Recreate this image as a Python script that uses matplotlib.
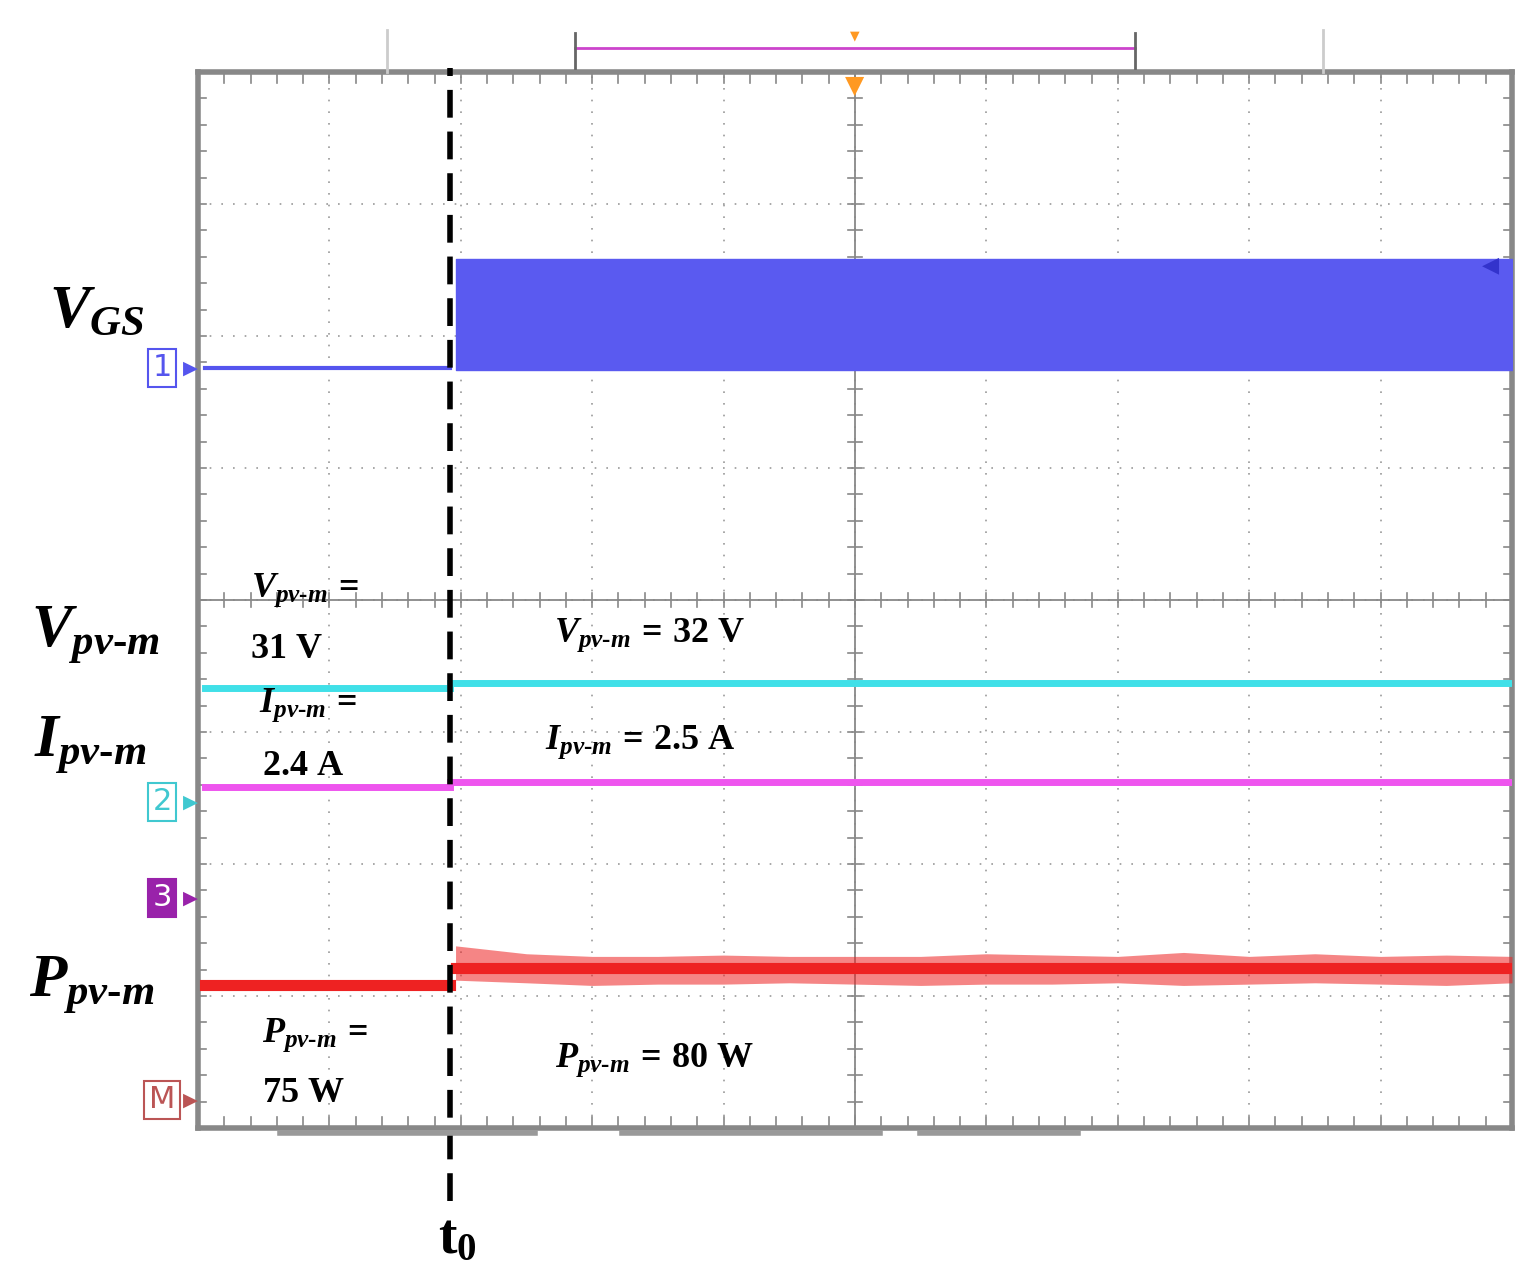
import matplotlib
matplotlib.use("Agg")
import matplotlib.pyplot as plt
import numpy as np

# data (divisions: x 0..10, y 0..8)
t0 = 1.92
vgs_low = 5.76
vgs_high = 6.58
vpv_levels = [3.33, 3.37]
ipv_levels = [2.58, 2.62]
ppv_levels = [1.08, 1.21]
ppv_after_x = [1.96, 2.5, 3.0, 3.5, 4.0, 4.5, 5.0, 5.5, 6.0, 6.5, 7.0, 7.5, 8.0, 8.5, 9.0, 9.5, 10.0]
ppv_after_hi = [1.38, 1.32, 1.30, 1.30, 1.31, 1.30, 1.30, 1.30, 1.32, 1.31, 1.30, 1.33, 1.30, 1.32, 1.30, 1.31, 1.30]
ppv_after_lo = [1.12, 1.10, 1.08, 1.09, 1.09, 1.10, 1.09, 1.08, 1.09, 1.09, 1.10, 1.08, 1.09, 1.10, 1.09, 1.08, 1.10]

plt.rcParams['mathtext.fontset'] = 'custom'
plt.rcParams['mathtext.it'] = 'Liberation Serif:italic:bold'
plt.rcParams['mathtext.rm'] = 'Liberation Serif:bold'
plt.rcParams['mathtext.bf'] = 'Liberation Serif:bold'

W, H = 1540, 1284
fig = plt.figure(figsize=(W/100, H/100), dpi=100)
def fx(px): return px / W
def fy(py): return 1 - py / H

ax = fig.add_axes([fx(198), fy(1128), (1512-198)/W, (1128-72)/H])
ax.set_xlim(0, 10); ax.set_ylim(0, 8)
ax.set_xticks([]); ax.set_yticks([])
for s in ax.spines.values():
    s.set_color('#888888'); s.set_linewidth(4)

# grid
for i in range(1, 10):
    ax.plot([i, i], [0, 8], color='#999999', lw=1.2, ls=(0, (1, 6)), zorder=1)
for j in range(1, 8):
    ax.plot([0, 10], [j, j], color='#999999', lw=1.2, ls=(0, (1, 6)), zorder=1)
ax.axvline(5, color='#888888', lw=1.3, zorder=1)
ax.axhline(4, color='#888888', lw=1.3, zorder=1)
for k in np.arange(0, 10.01, 0.2):
    ax.plot([k, k], [3.95, 4.05], color='#888888', lw=1.2)
    ax.plot([k, k], [0, 0.08], color='#888888', lw=1.2)
    ax.plot([k, k], [7.92, 8], color='#888888', lw=1.2)
for k in np.arange(0, 8.01, 0.2):
    ax.plot([4.95, 5.05], [k, k], color='#888888', lw=1.2)
    ax.plot([0, 0.06], [k, k], color='#888888', lw=1.2)
    ax.plot([9.94, 10], [k, k], color='#888888', lw=1.2)

# VGS
ax.plot([0.05, t0], [vgs_low, vgs_low], color='#5555ee', lw=3, zorder=3)
ax.fill_between([t0 + 0.04, 10], [vgs_low - 0.02]*2, [vgs_high]*2, color='#5a5af0', zorder=3)
# Vpv, Ipv
ax.plot([0.05, t0], [vpv_levels[0]]*2, color='#40e0e8', lw=5, zorder=3)
ax.plot([t0, 10], [vpv_levels[1]]*2, color='#40e0e8', lw=5, zorder=3)
ax.plot([0.05, t0], [ipv_levels[0]]*2, color='#ee55ee', lw=5, zorder=3)
ax.plot([t0, 10], [ipv_levels[1]]*2, color='#ee55ee', lw=5, zorder=3)
# Ppv
ax.plot([0.05, t0], [ppv_levels[0]]*2, color='#ee2222', lw=8, zorder=3)
ax.fill_between(ppv_after_x, ppv_after_lo, ppv_after_hi, color='#ee2222', alpha=0.55, zorder=3, lw=0)
ax.plot([t0 + 0.04, 10], [ppv_levels[1]]*2, color='#ee2222', lw=8, zorder=3)

# t0 dashed line
ax.plot([t0, t0], [-0.55, 8.03], color='black', lw=4, ls=(0, (5, 2.5)), clip_on=False, zorder=5)

# bottom grey bars
for a, b in [(280, 535), (622, 880), (920, 1078)]:
    fig.add_artist(plt.Line2D([fx(a), fx(b)], [fy(1133)]*2, color='#999999', lw=4))
# top bracket
fig.add_artist(plt.Line2D([fx(575), fx(1135)], [fy(48)]*2, color='#cc44cc', lw=2))
for xx in (575, 1135):
    fig.add_artist(plt.Line2D([fx(xx)]*2, [fy(33), fy(68)], color='#666666', lw=2))
for xx in (387, 1323):
    fig.add_artist(plt.Line2D([fx(xx)]*2, [fy(30), fy(72)], color='#cccccc', lw=2))
fig.text(fx(855), fy(36), '▼', color='#ff9922', fontsize=9, ha='center', va='center')
fig.text(fx(855), fy(86), '▼', color='#ff9922', fontsize=18, ha='center', va='center')
fig.text(fx(1490), fy(265), '◀', color='#3333cc', fontsize=16, ha='center', va='center')

# channel markers
def marker(py, txt, ec, fc, tc):
    fig.text(fx(162), fy(py), txt, fontsize=22, ha='center', va='center', color=tc,
             family='DejaVu Sans',
             bbox=dict(boxstyle='square,pad=0.15', fc=fc, ec=ec, lw=1.5))
    fig.text(fx(190), fy(py), '▶', fontsize=14, ha='center', va='center', color=ec)
marker(368, '1', '#5555ee', 'white', '#5555ee')
marker(802, '2', '#40c8d0', 'white', '#40c8d0')
marker(898, '3', '#9922aa', '#9922aa', 'white')
marker(1100, 'M', '#bb5555', 'white', '#bb5555')

# labels
big = 44
fig.text(fx(97), fy(310), r'$V_{GS}$', fontsize=big, ha='center', va='center')
fig.text(fx(95), fy(635), r'$V_{pv\text{-}m}$', fontsize=big, ha='center', va='center')
fig.text(fx(90), fy(745), r'$I_{pv\text{-}m}$', fontsize=big, ha='center', va='center')
fig.text(fx(92), fy(985), r'$P_{pv\text{-}m}$', fontsize=big, ha='center', va='center')

sm = 26
def lab(px, py, s):
    fig.text(fx(px), fy(py), s, fontsize=sm, ha='center', va='center')
lab(305, 590, r'$V_{pv\text{-}m}\mathrm{\,=}$')
lab(287, 648, r'$\mathrm{31\ V}$')
lab(308, 705, r'$I_{pv\text{-}m}\mathrm{\,=}$')
lab(303, 765, r'$\mathrm{2.4\ A}$')
lab(650, 635, r'$V_{pv\text{-}m}\mathrm{\,=\,32\ V}$')
lab(640, 742, r'$I_{pv\text{-}m}\mathrm{\,=\,2.5\ A}$')
lab(315, 1035, r'$P_{pv\text{-}m}\mathrm{\,=}$')
lab(303, 1092, r'$\mathrm{75\ W}$')
lab(655, 1060, r'$P_{pv\text{-}m}\mathrm{\,=\,80\ W}$')
fig.text(fx(457), fy(1238), r'$\mathrm{t_0}$', fontsize=40, ha='center', va='center')

fig.savefig('out.png', dpi=100, facecolor='white')
